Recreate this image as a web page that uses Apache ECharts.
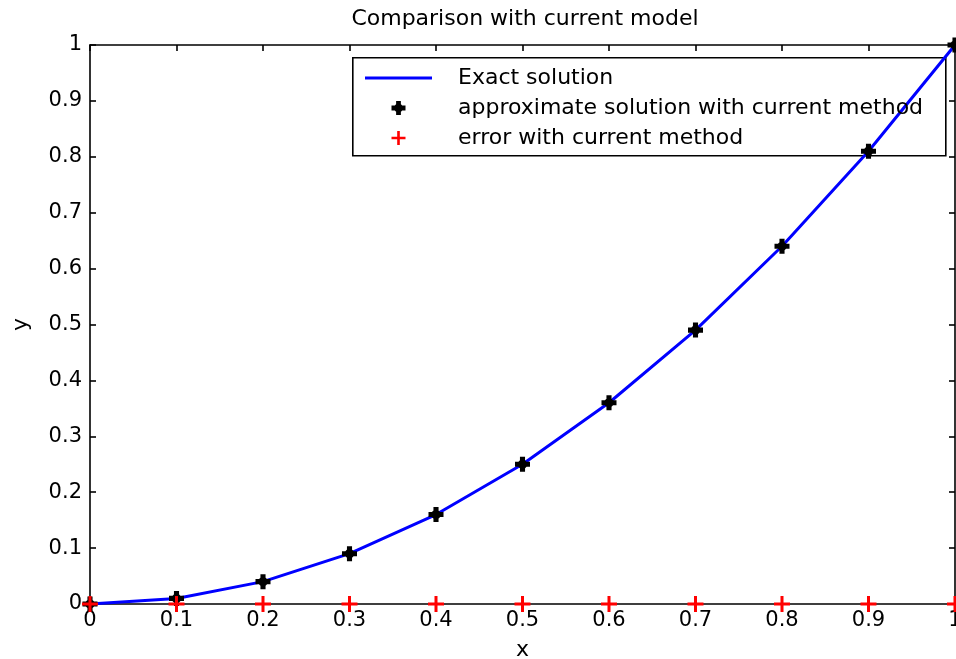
<!DOCTYPE html>
<html><head><meta charset="utf-8">
<script src="https://cdn.jsdelivr.net/npm/echarts@6/dist/echarts.min.js"></script>
<style>html,body{margin:0;padding:0;background:#fff}#c{width:956px;height:659px}</style>
</head><body><div id="c"></div>
<script>
const xValues = [0, 0.1, 0.2, 0.3, 0.4, 0.5, 0.6, 0.7, 0.8, 0.9, 1];
const exactY = [0, 0.01, 0.04, 0.09, 0.16, 0.25, 0.36, 0.49, 0.64, 0.81, 1];
const approxY = [0, 0.01, 0.04, 0.09, 0.16, 0.25, 0.36, 0.49, 0.64, 0.81, 1];
const errorY = [0, 0, 0, 0, 0, 0, 0, 0, 0, 0, 0];
const xTickLabels = ['0','0.1','0.2','0.3','0.4','0.5','0.6','0.7','0.8','0.9','1'];
const yTickLabels = ['0','0.1','0.2','0.3','0.4','0.5','0.6','0.7','0.8','0.9','1'];
const seriesNames = ['Exact solution','approximate solution with current method','error with current method'];

const pair = (xs, ys) => xs.map((x, i) => [x, ys[i]]);
const FONT = 'DejaVu Sans, Liberation Sans, Arial, sans-serif';
const starPath = 'path://M3.3,0 H6.7 V3.3 H10 V6.7 H6.7 V10 H3.3 V6.7 H0 V3.3 H3.3 Z M5,0.6 L9.4,5 L5,9.4 L0.6,5 Z';
const plusPath = 'path://M6.5,0 H9.5 V6.5 H16 V9.5 H9.5 V16 H6.5 V9.5 H0 V6.5 H6.5 Z';

const chart = echarts.init(document.getElementById('c'), null, {renderer: 'canvas'});
const axisCommon = {
  min: 0, max: 1, interval: 0.1,
  axisLine: {show: true, onZero: false, lineStyle: {color: '#000', width: 1.6}},
  axisTick: {show: true, inside: true, length: 6, lineStyle: {color: '#000', width: 1.6}},
  splitLine: {show: false}
};
chart.setOption({
  animation: false,
  backgroundColor: '#fff',
  title: {text: 'Comparison with current model', left: 520, top: 3, textAlign: 'center',
    textStyle: {fontFamily: FONT, fontSize: 22, fontWeight: 'normal', color: '#000'}},
  grid: {left: 90, right: 1, top: 45, bottom: 55, show: false, outerBoundsMode: 'none', containLabel: false},
  xAxis: [
    Object.assign({}, axisCommon, {type: 'value', position: 'bottom', name: 'x', nameLocation: 'middle', nameGap: 35,
      nameTextStyle: {fontFamily: FONT, fontSize: 22, color: '#000'},
      axisLabel: {fontFamily: FONT, fontSize: 21, color: '#000', margin: 6,
        formatter: v => xTickLabels[Math.round(v * 10)]}}),
    Object.assign({}, axisCommon, {type: 'value', position: 'top', axisLabel: {show: false}})
  ],
  yAxis: [
    Object.assign({}, axisCommon, {type: 'value', position: 'left', name: 'y', nameLocation: 'middle', nameGap: 58,
      nameTextStyle: {fontFamily: FONT, fontSize: 22, color: '#000'},
      axisLabel: {fontFamily: FONT, fontSize: 21, color: '#000', margin: 8,
        formatter: v => yTickLabels[Math.round(v * 10)]}}),
    Object.assign({}, axisCommon, {type: 'value', position: 'right', axisLabel: {show: false}})
  ],
  legend: {
    orient: 'vertical', left: 360, top: 62, itemGap: 8, itemWidth: 67, itemHeight: 14,
    textStyle: {fontFamily: FONT, fontSize: 22, lineHeight: 22, color: '#000', padding: [0, 0, 0, 21]},
    data: [
      {name: seriesNames[0], icon: 'path://M0,0 H67 V3 H0 Z', itemStyle: {color: '#0000ff'}},
      {name: seriesNames[1]},
      {name: seriesNames[2]}
    ]
  },
  graphic: [{type: 'rect', left: 352, top: 57, shape: {width: 593, height: 98}, z: 0,
    style: {fill: '#fff', stroke: '#000', lineWidth: 1.6}}],
  series: [
    {name: seriesNames[0], type: 'line', data: pair(xValues, exactY), symbol: 'none',
      lineStyle: {color: '#0000ff', width: 3}, itemStyle: {color: '#0000ff'}, z: 2},
    {name: seriesNames[1], type: 'scatter', data: pair(xValues, approxY), symbol: starPath, symbolSize: 15,
      itemStyle: {color: '#000', opacity: 1}, z: 3},
    {name: seriesNames[2], type: 'scatter', data: pair(xValues, errorY), symbol: plusPath, symbolSize: 16,
      itemStyle: {color: '#ff0000', opacity: 1}, z: 4}
  ]
});
</script></body></html>
